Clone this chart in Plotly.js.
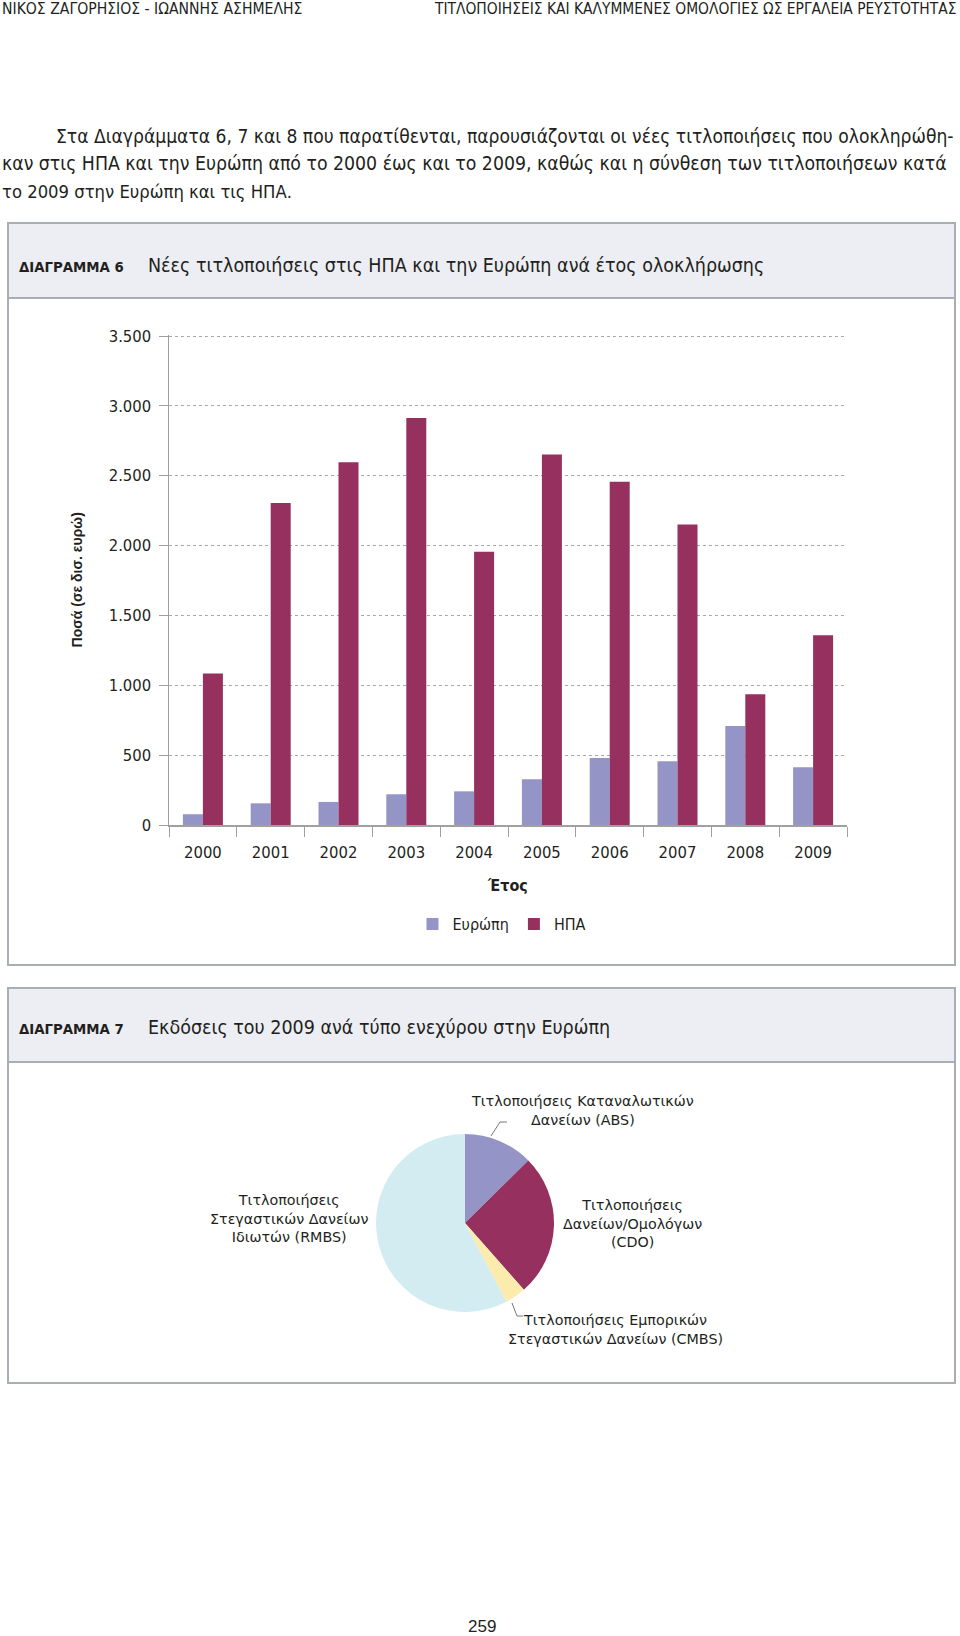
<!DOCTYPE html>
<html>
<head>
<meta charset="utf-8">
<script src="https://cdn.plot.ly/plotly-3.0.1.min.js"></script>
<style>
html,body{margin:0;padding:0;background:#fff;}
#chart{width:960px;height:1636px;}
</style>
</head>
<body>
<div id="chart"></div>
<script>
// ---- data ----
const years = ['2000','2001','2002','2003','2004','2005','2006','2007','2008','2009'];
const europe = [77, 155, 165, 220, 241, 327, 479, 456, 708, 413];
const usa = [1085, 2305, 2597, 2913, 1955, 2652, 2456, 2151, 935, 1359];
const seriesNames = ['Ευρώπη', 'ΗΠΑ'];

const pieLabels = [
  'Τιτλοποιήσεις Καταναλωτικών Δανείων (ABS)',
  'Τιτλοποιήσεις Δανείων/Ομολόγων (CDO)',
  'Τιτλοποιήσεις Εμπορικών Στεγαστικών Δανείων (CMBS)',
  'Τιτλοποιήσεις Στεγαστικών Δανείων Ιδιωτών (RMBS)'
];
const pieValues = [12.6, 25.9, 3.8, 57.7];
const pieLabelText = [
  'Τιτλοποιήσεις Καταναλωτικών<br>Δανείων (ABS)',
  'Τιτλοποιήσεις<br>Δανείων/Ομολόγων<br>(CDO)',
  'Τιτλοποιήσεις Εμπορικών<br>Στεγαστικών Δανείων (CMBS)',
  'Τιτλοποιήσεις<br>Στεγαστικών Δανείων<br>Ιδιωτών (RMBS)'
];

const headerLeft = 'ΝΙΚΟΣ ΖΑΓΟΡΗΣΙΟΣ - ΙΩΑΝΝΗΣ ΑΣΗΜΕΛΗΣ';
const headerRight = 'ΤΙΤΛΟΠΟΙΗΣΕΙΣ ΚΑΙ ΚΑΛΥΜΜΕΝΕΣ ΟΜΟΛΟΓΙΕΣ ΩΣ ΕΡΓΑΛΕΙΑ ΡΕΥΣΤΟΤΗΤΑΣ';
const paraLines = [
  'Στα Διαγράμματα 6, 7 και 8 που παρατίθενται, παρουσιάζονται οι νέες τιτλοποιήσεις που ολοκληρώθη-',
  'καν στις ΗΠΑ και την Ευρώπη από το 2000 έως και το 2009, καθώς και η σύνθεση των τιτλοποιήσεων κατά',
  'το 2009 στην Ευρώπη και τις ΗΠΑ.'
];
const chart6Label = 'ΔΙΑΓΡΑΜΜΑ 6';
const chart6Title = 'Νέες τιτλοποιήσεις στις ΗΠΑ και την Ευρώπη ανά έτος ολοκλήρωσης';
const chart7Label = 'ΔΙΑΓΡΑΜΜΑ 7';
const chart7Title = 'Εκδόσεις του 2009 ανά τύπο ενεχύρου στην Ευρώπη';
const yTitle = 'Ποσά (σε δισ. ευρώ)';
const xTitle = 'Έτος';
const pageNo = '259';

// ---- layout helpers ----
const W = 960, H = 1636;
const px = x => x / W;
const py = y => 1 - y / H;
const FONT = '"DejaVu Sans Condensed", "Liberation Sans Narrow", sans-serif';
const FONT2 = '"Liberation Sans", Arial, sans-serif';
const FONT3 = '"DejaVu Sans", sans-serif';
const TXT = '#231f20';
const BORDER = '#a9adb4';
const BAND = '#eceef3';
const C_EU = '#9594c6';
const C_US = '#96305e';

const traces = [
  {type:'bar', name:seriesNames[0], x:years, y:europe, marker:{color:C_EU}, xaxis:'x', yaxis:'y', hoverinfo:'x+y+name'},
  {type:'bar', name:seriesNames[1], x:years, y:usa, marker:{color:C_US}, xaxis:'x', yaxis:'y', hoverinfo:'x+y+name'},
  {type:'pie', labels:pieLabels, values:pieValues, sort:false, direction:'clockwise', rotation:0,
   marker:{colors:[C_EU, C_US, '#fbecae', '#d2ecf1'], line:{width:0}},
   textinfo:'none', showlegend:false,
   domain:{x:[px(376), px(554)], y:[py(1312), py(1134)]}}
];

function ann(text, x, y, size, opts) {
  return Object.assign({text:text, x:px(x), y:py(y), xref:'paper', yref:'paper', showarrow:false,
    xanchor:'left', yanchor:'middle', font:{family:FONT, size:size, color:TXT}}, opts || {});
}
const pieFont = {family:FONT3, size:14.3, color:TXT};

const annotations = [
  ann(headerLeft, 0, 9, 15.6),
  ann(headerRight, 958, 9, 15.4, {xanchor:'right'}),
  ann(paraLines[0], 54, 136, 19.1),
  ann(paraLines[1], 0, 164, 19.3),
  ann(paraLines[2], 0, 191, 18.3),
  ann('<b>' + chart6Label + '</b>', 17, 266, 14.8),
  ann(chart6Title, 146, 265, 19.5),
  ann('<b>' + chart7Label + '</b>', 17, 1028, 14.8),
  ann(chart7Title, 146, 1027, 19.5),
  ann(pieLabelText[0], 582, 1110, 14.3, {xanchor:'center', font:pieFont}),
  ann(pieLabelText[1], 632, 1223, 14.3, {xanchor:'center', font:pieFont}),
  ann(pieLabelText[2], 615, 1329, 14.3, {xanchor:'center', font:pieFont}),
  ann(pieLabelText[3], 289, 1218, 14.3, {xanchor:'center', font:pieFont}),
  ann(pageNo, 482, 1626, 17, {xanchor:'center', font:{family:FONT2, size:17, color:TXT}})
];

function path(pts) {
  return 'M' + pts.map(p => px(p[0]) + ',' + py(p[1])).join(' L');
}

const shapes = [
  // box 6
  {type:'rect', xref:'paper', yref:'paper', x0:px(8), x1:px(955), y0:py(298), y1:py(223), fillcolor:BAND, line:{width:0}, layer:'below'},
  {type:'rect', xref:'paper', yref:'paper', x0:px(8), x1:px(955), y0:py(965), y1:py(223), line:{color:BORDER, width:2}},
  {type:'line', xref:'paper', yref:'paper', x0:px(8), x1:px(955), y0:py(298), y1:py(298), line:{color:BORDER, width:2}},
  // box 7
  {type:'rect', xref:'paper', yref:'paper', x0:px(8), x1:px(955), y0:py(1062), y1:py(988), fillcolor:BAND, line:{width:0}, layer:'below'},
  {type:'rect', xref:'paper', yref:'paper', x0:px(8), x1:px(955), y0:py(1383), y1:py(988), line:{color:BORDER, width:2}},
  {type:'line', xref:'paper', yref:'paper', x0:px(8), x1:px(955), y0:py(1062), y1:py(1062), line:{color:BORDER, width:2}},
  // pie leader lines
  {type:'path', xref:'paper', yref:'paper', path:path([[491,1136],[500,1122],[507,1122]]), line:{color:'#777', width:1}},
  {type:'path', xref:'paper', yref:'paper', path:path([[512,1303],[517,1316],[523,1316]]), line:{color:'#777', width:1}}
];

const layout = {
  width: W, height: H,
  margin:{l:0, r:0, t:0, b:0},
  paper_bgcolor:'#fff', plot_bgcolor:'rgba(0,0,0,0)',
  separators: ',.',
  font:{family:FONT, size:16, color:TXT},
  barmode:'group', bargap:0.41, bargroupgap:0,
  showlegend:true,
  legend:{orientation:'h', x:px(502), xanchor:'center', y:py(924), yanchor:'middle',
    font:{family:FONT, size:16, color:TXT}, itemwidth:30, traceorder:'normal', bgcolor:'rgba(0,0,0,0)'},
  xaxis:{domain:[px(169), px(847)], anchor:'y', type:'category', tickson:'boundaries',
    ticks:'outside', ticklen:10, tickcolor:'#a0a0a0', tickwidth:1,
    showline:true, linecolor:'#a0a0a0', linewidth:1.5, showgrid:false, zeroline:false,
    tickfont:{family:FONT, size:16.5, color:TXT}, ticklabelstandoff:12,
    title:{text:'<b>' + xTitle + '</b>', font:{family:FONT, size:16, color:TXT}, standoff:18}},
  yaxis:{domain:[py(825), py(334.6)], anchor:'x', range:[0, 3510], tickvals:[0,500,1000,1500,2000,2500,3000,3500], tickformat:',',
    ticks:'outside', ticklen:9, tickcolor:'#a0a0a0', tickwidth:1,
    showline:true, linecolor:'#a0a0a0', linewidth:1.5,
    showgrid:true, gridcolor:'#a8a8a8', griddash:'dot', gridwidth:1, zeroline:false,
    tickfont:{family:FONT, size:16.5, color:TXT}, ticklabelstandoff:4,
    title:{text:'<b>' + yTitle + '</b>', font:{family:FONT2, size:14, color:TXT}, standoff:23}},
  annotations: annotations,
  shapes: shapes
};

Plotly.newPlot('chart', traces, layout, {displayModeBar:false, staticPlot:true});
</script>
</body>
</html>
